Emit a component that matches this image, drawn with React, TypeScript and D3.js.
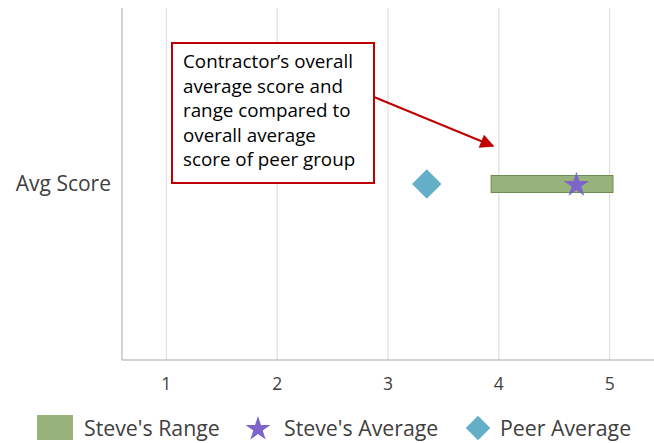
import React, { useEffect, useRef } from 'react';
import * as d3 from 'd3';

const categories = ['Avg Score'];
const rangeLow = [3.93];
const rangeHigh = [5.03];
const stevesAverage = [4.7];
const peerAverage = [3.35];
const xTicks = [1, 2, 3, 4, 5];
const legendLabels = ["Steve's Range", "Steve's Average", 'Peer Average'];
const noteLines = ['Contractor\u2019s overall', 'average score and', 'range compared to', 'overall average', 'score of peer group'];

const App = () => {
	const chartRef = useRef<SVGSVGElement>(null);

	useEffect(() => {
		if (!chartRef.current) return;
		const width = 654;
		const height = 443;
		const margin = { top: 8, right: 0, bottom: 83, left: 122 };

		const svg = d3.select(chartRef.current);
		svg.selectAll('*').remove();

		const x = d3.scaleLinear().domain([0.6, 5.4]).range([margin.left, width - margin.right]);
		const y = d3.scaleBand().domain(categories).range([margin.top, height - margin.bottom]);
		const yMid = (c: string) => (y(c) as number) + y.bandwidth() / 2;

		const green = '#98b27c';
		const purple = '#7c64c8';
		const blue = '#63afc8';
		const red = '#c00000';
		const font = 'Open Sans, sans-serif';

		// gridlines
		svg.append('g')
			.selectAll('line')
			.data(xTicks)
			.join('line')
			.attr('x1', d => x(d)).attr('x2', d => x(d))
			.attr('y1', margin.top).attr('y2', height - margin.bottom)
			.attr('stroke', '#d9d9d9')
			.attr('stroke-width', 1);

		// axes
		svg.append('line')
			.attr('x1', margin.left).attr('x2', margin.left)
			.attr('y1', margin.top).attr('y2', height - margin.bottom)
			.attr('stroke', '#a6a6a6');
		svg.append('line')
			.attr('x1', margin.left).attr('x2', width)
			.attr('y1', height - margin.bottom).attr('y2', height - margin.bottom)
			.attr('stroke', '#a6a6a6');

		svg.append('g')
			.selectAll('text')
			.data(xTicks)
			.join('text')
			.attr('x', d => x(d))
			.attr('y', height - margin.bottom + 30)
			.attr('text-anchor', 'middle')
			.style('font-family', font)
			.style('font-size', '17.5px')
			.attr('fill', '#404040')
			.text(d => d);

		svg.append('g')
			.selectAll('text')
			.data(categories)
			.join('text')
			.attr('x', margin.left - 11)
			.attr('y', d => yMid(d) + 7)
			.attr('text-anchor', 'end')
			.style('font-family', font)
			.style('font-size', '21px')
			.attr('fill', '#404040')
			.text(d => d);

		// range bar
		const barH = 17;
		svg.append('g')
			.selectAll('rect')
			.data(categories)
			.join('rect')
			.attr('x', (d, i) => x(rangeLow[i]))
			.attr('width', (d, i) => x(rangeHigh[i]) - x(rangeLow[i]))
			.attr('y', d => yMid(d) - barH / 2)
			.attr('height', barH)
			.attr('fill', green)
			.attr('stroke', '#6f8c55')
			.attr('stroke-width', 1);

		// peer average diamond
		svg.append('g')
			.selectAll('path')
			.data(categories)
			.join('path')
			.attr('d', d3.symbol().type(d3.symbolSquare).size(430)())
			.attr('transform', (d, i) => `translate(${x(peerAverage[i])},${yMid(d)}) rotate(45)`)
			.attr('fill', blue);

		// steve's average star
		svg.append('g')
			.selectAll('path')
			.data(categories)
			.join('path')
			.attr('d', d3.symbol().type(d3.symbolStar).size(200)())
			.attr('transform', (d, i) => `translate(${x(stevesAverage[i])},${yMid(d) + 1})`)
			.attr('fill', purple);

		// annotation
		const defs = svg.append('defs');
		defs.append('marker')
			.attr('id', 'arrow')
			.attr('viewBox', '0 0 10 10')
			.attr('refX', 9).attr('refY', 5)
			.attr('markerWidth', 8).attr('markerHeight', 7)
			.attr('orient', 'auto')
			.append('path')
			.attr('d', 'M0,0 L10,5 L0,10 z')
			.attr('fill', red);

		svg.append('line')
			.attr('x1', 374).attr('y1', 97)
			.attr('x2', 493).attr('y2', 146)
			.attr('stroke', red)
			.attr('stroke-width', 2)
			.attr('marker-end', 'url(#arrow)');

		svg.append('rect')
			.attr('x', 172).attr('y', 43)
			.attr('width', 202).attr('height', 140)
			.attr('fill', '#fff')
			.attr('stroke', red)
			.attr('stroke-width', 2);

		svg.append('g')
			.selectAll('text')
			.data(noteLines)
			.join('text')
			.attr('x', 183)
			.attr('y', (d, i) => 68 + i * 24.5)
			.style('font-family', font)
			.style('font-size', '18.8px')
			.attr('fill', '#000')
			.text(d => d);

		// legend
		const legendY = 428;
		const legend = svg.append('g').style('font-family', font).style('font-size', '21.3px');
		legend.append('rect')
			.attr('x', 37).attr('y', legendY - 13)
			.attr('width', 36).attr('height', 25)
			.attr('fill', green);
		legend.append('path')
			.attr('d', d3.symbol().type(d3.symbolStar).size(190)())
			.attr('transform', `translate(258,${legendY + 1})`)
			.attr('fill', purple);
		legend.append('path')
			.attr('d', d3.symbol().type(d3.symbolSquare).size(300)())
			.attr('transform', `translate(478,${legendY}) rotate(45)`)
			.attr('fill', blue);
		const legendX = [84, 284, 500];
		legend.selectAll('text')
			.data(legendLabels)
			.join('text')
			.attr('x', (d, i) => legendX[i])
			.attr('y', legendY + 8)
			.attr('fill', '#404040')
			.text(d => d);
	}, []);

	return <svg ref={chartRef} width={654} height={443} style={{ position: 'absolute', left: 0, top: 0 }} />;
};

export default App;
